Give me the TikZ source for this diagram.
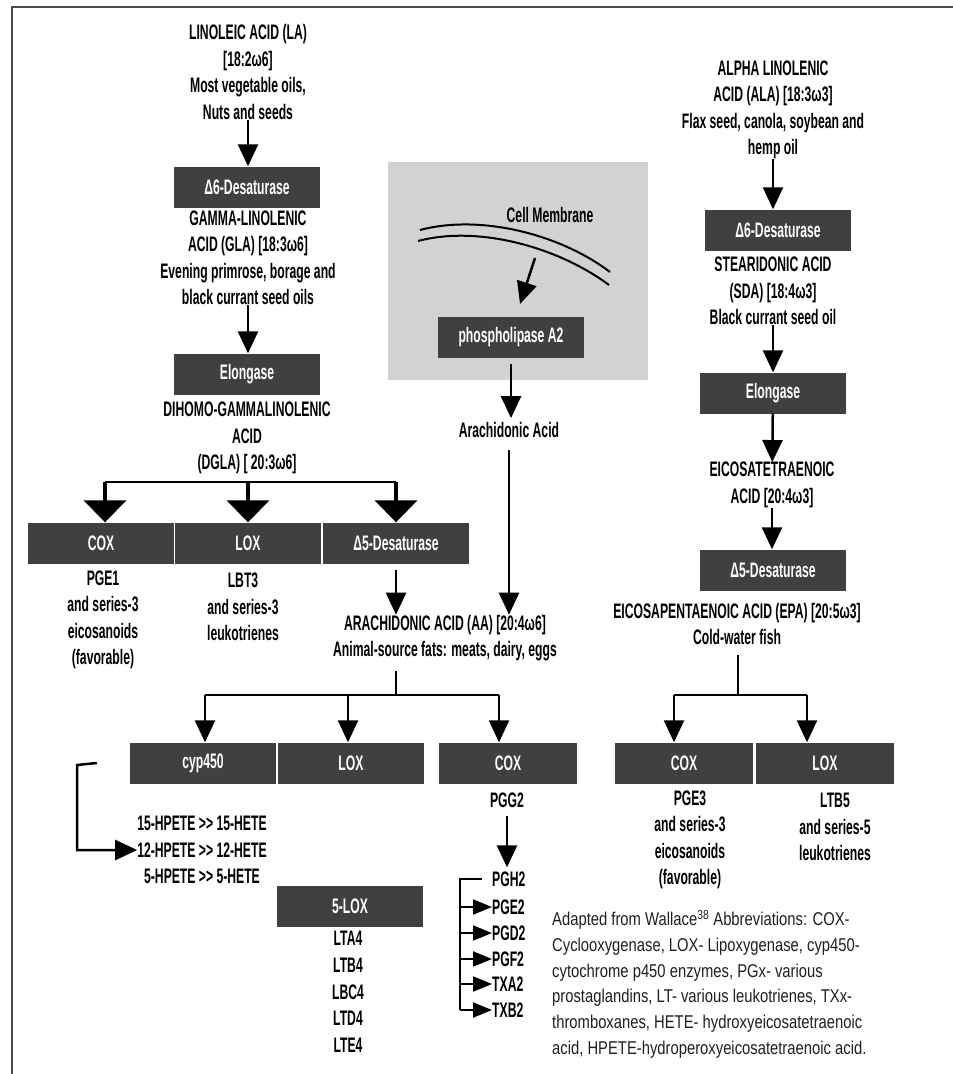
\documentclass[tikz,border=0pt]{standalone}
\usepackage{fontspec}
\usepackage{xcolor}
\usepackage{tikz}
\usetikzlibrary{arrows.meta}
\newfontfamily\condfont[FakeStretch=0.58]{Liberation Sans}
\newfontfamily\notefont[FakeStretch=0.8]{Liberation Sans}
\definecolor{boxgray}{HTML}{404040}
\definecolor{cellgray}{HTML}{D2D2D2}
\tikzstyle{enzyme} = [rectangle, minimum width=146pt, minimum height=41pt, inner sep=0pt, text centered, fill=boxgray, text=white, font=\condfont\bfseries\fontsize{21}{24}\selectfont]
\tikzstyle{acid} = [align=center, inner sep=0pt, font=\condfont\bfseries\fontsize{21}{26.5}\selectfont]
\tikzstyle{arrow} = [line width=2.5pt, -{Triangle[width=20pt,length=22pt]}]
\tikzstyle{bigarrow} = [line width=4pt, -{Triangle[width=42pt,length=22pt]}]
\tikzstyle{smallarrow} = [line width=2pt, -{Triangle[width=15pt,length=19pt]}]
\tikzstyle{link} = [line width=2.5pt]

\begin{document}
\begin{tikzpicture}[x=1pt, y=-1pt]
        \useasboundingbox (0,0) rectangle (953,1074);
        \draw [line width=2pt, black!70] (12,1074) -- (12,7) -- (953,7);

        % omega-6 column
        \node (la) [acid] at (248,72) {LINOLEIC ACID (LA)\\{}[18:2ω6]\\ Most vegetable oils,\\ Nuts and seeds};
        \node (d6l) [enzyme] at (247,187) {Δ6-Desaturase};
        \node (gla) [acid] at (248,258) {GAMMA-LINOLENIC\\ ACID (GLA) [18:3ω6]\\ Evening primrose, borage and\\ black currant seed oils};
        \node (ell) [enzyme] at (247,374) {Elongase};
        \node (dgla) [acid] at (247,438) {DIHOMO-GAMMALINOLENIC\\ ACID\\ (DGLA) [ 20:3ω6]};
        \node (cox1) [enzyme] at (101,543) {COX};
        \node (lox1) [enzyme] at (248,543) {LOX};
        \node (d5l) [enzyme] at (396,543) {Δ5-Desaturase};
        \node (pge1) [acid] at (103,620) {PGE1\\ and series-3\\ eicosanoids\\ (favorable)};
        \node (lbt3) [acid] at (243,607) {LBT3\\ and series-3\\ leukotrienes};
        \node (aa) [acid] at (445,638) {ARACHIDONIC ACID (AA) [20:4ω6]\\ Animal-source fats: meats, dairy, eggs};

        % cell membrane
        \node (cellbox) [fill=cellgray, minimum width=260pt, minimum height=218pt, inner sep=0pt] at (518,271) {};
        \draw [line width=2pt] (420,230) .. controls (480,214) and (560,234) .. (610,272);
        \draw [line width=2pt] (418,241) .. controls (478,225) and (558,247) .. (609,285);
        \node (memb) [acid] at (550,215) {Cell Membrane};
        \coordinate (membarrow) at (535,258);
        \node (pla) [enzyme] at (511,337) {phospholipase A2};
        \node (aacid) [acid] at (509,430) {Arachidonic Acid};

        % arachidonic acid products
        \node (cyp) [enzyme] at (203,763) {cyp450};
        \node (lox2) [enzyme] at (351,763) {LOX};
        \node (cox2) [enzyme, minimum width=138pt] at (508,763) {COX};
        \node (hpete) [acid] at (202,850) {15-HPETE >> 15-HETE\\ 12-HPETE >> 12-HETE\\ 5-HPETE >> 5-HETE};
        \node (lox5) [enzyme] at (350,906) {5-LOX};
        \node (lt) [acid, font=\condfont\bfseries\fontsize{21}{26.7}\selectfont] at (348,992) {LTA4\\ LTB4\\ LBC4\\ LTD4\\ LTE4};
        \node (pgg2) [acid] at (507,800) {PGG2};
        \node (pgh2) [acid, anchor=west] at (492,879) {PGH2};
        \node (pge2) [acid, anchor=west] at (492,907) {PGE2};
        \node (pgd2) [acid, anchor=west] at (492,933) {PGD2};
        \node (pgf2) [acid, anchor=west] at (492,959) {PGF2};
        \node (txa2) [acid, anchor=west] at (492,984) {TXA2};
        \node (txb2) [acid, anchor=west] at (492,1010) {TXB2};

        % omega-3 column
        \node (ala) [acid] at (773,110) {ALPHA LINOLENIC\\ ACID (ALA) [18:3ω3]\\ Flax seed, canola, soybean and\\ hemp oil};
        \node (d6r) [enzyme] at (778,230) {Δ6-Desaturase};
        \node (sda) [acid] at (773,291) {STEARIDONIC ACID\\ (SDA) [18:4ω3]\\ Black currant seed oil};
        \node (elr) [enzyme] at (773,393) {Elongase};
        \node (eta) [acid] at (772,485) {EICOSATETRAENOIC\\ ACID [20:4ω3]};
        \node (d5r) [enzyme] at (773,570) {Δ5-Desaturase};
        \node (epa) [acid] at (737,624) {EICOSAPENTAENOIC ACID (EPA) [20:5ω3]\\ Cold-water fish};
        \node (cox3) [enzyme, minimum width=138pt] at (684,763) {COX};
        \node (lox3) [enzyme, minimum width=138pt] at (825,763) {LOX};
        \node (pge3) [acid] at (690,840) {PGE3\\ and series-3\\ eicosanoids\\ (favorable)};
        \node (ltb5) [acid] at (835,827) {LTB5\\ and series-5\\ leukotrienes};

        \node (note) [anchor=north west, align=left, inner sep=0pt, text=black!88, font=\notefont\fontsize{18.5}{25.8}\selectfont] at (552,910) {Adapted from Wallace\textsuperscript{38} Abbreviations: COX-\\ Cyclooxygenase, LOX- Lipoxygenase, cyp450-\\ cytochrome p450 enzymes, PGx- various\\ prostaglandins, LT- various leukotrienes, TXx-\\ thromboxanes, HETE- hydroxyeicosatetraenoic\\ acid, HPETE-hydroperoxyeicosatetraenoic acid.};

        \coordinate (dglaL) at (105,482);
        \coordinate (dglaR) at (396,482);
        \coordinate (aaj) at (396,695);
        \coordinate (aaL) at (205,695);
        \coordinate (aaM) at (348,695);
        \coordinate (aaR) at (499,695);
        \coordinate (epaj) at (738,695);
        \coordinate (epaL) at (674,695);
        \coordinate (epaR) at (807,695);
        \coordinate (cypb) at (77,765);
        \coordinate (pgbar) at (460,879);

        \draw [arrow] (la) -- (la.south |- d6l.north);
        \draw [arrow] (gla) -- (gla.south |- ell.north);
        \draw [link] (dglaL) -- (dglaR);
        \draw [bigarrow] (dglaL) -- (dglaL |- cox1.north);
        \draw [bigarrow] (dglaL -| lox1) -- (lox1);
        \draw [bigarrow] (dglaR) -- (d5l);
        \draw [arrow, shorten <=6pt] (d5l.south) -- (d5l.south |- aa.north);
        \draw [arrow, shorten >=13pt] (membarrow) -- ([xshift=5pt]pla.north);
        \draw [arrow, shorten <=6pt, shorten >=4pt] (pla) -- (pla.south |- aacid.north);
        \draw [arrow, shorten <=12pt] (aacid) -- (aacid.south |- aa.north);
        \draw [link, shorten <=10pt] (aa.south -| aaj) -- (aaj);
        \draw [link] (aaL) -- (aaR);
        \draw [arrow] (aaL) -- (aaL |- cyp.north);
        \draw [arrow] (aaM) -- (aaM |- lox2.north);
        \draw [arrow] (aaR) -- (aaR |- cox2.north);
        \draw [arrow] ([xshift=-33pt]cyp.west) -- (cypb) |- (hpete.west);
        \draw [arrow, shorten <=8pt, shorten >=4pt] (pgg2) -- (pgg2.south |- pgh2.north);
        \draw [link, line width=2pt] ([xshift=-10pt]pgh2.west) -- (pgbar) -- (pgbar |- txb2.west);
        \draw [smallarrow] (pgbar |- pge2.west) -- (pge2.west);
        \draw [smallarrow] (pgbar |- pgd2.west) -- (pgd2.west);
        \draw [smallarrow] (pgbar |- pgf2.west) -- (pgf2.west);
        \draw [smallarrow] (pgbar |- txa2.west) -- (txa2.west);
        \draw [smallarrow] (pgbar |- txb2.west) -- (txb2.west);

        \draw [arrow] (ala) -- (ala.south |- d6r.north);
        \draw [arrow] (sda) -- (sda.south |- elr.north);
        \draw [arrow] (elr) -- (eta);
        \draw [arrow] (eta) -- (eta.south |- d5r.north);
        \draw [link, shorten <=10pt] (epa.south -| epaj) -- (epaj);
        \draw [link] (epaL) -- (epaR);
        \draw [arrow] (epaL) -- (epaL |- cox3.north);
        \draw [arrow] (epaR) -- (epaR |- lox3.north);
    \end{tikzpicture}
\end{document}
